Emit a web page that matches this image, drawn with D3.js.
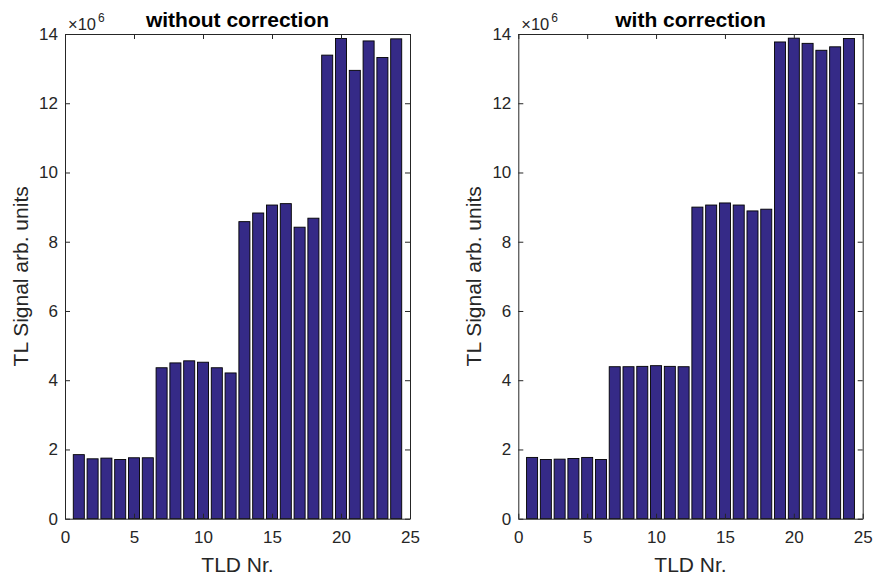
<!DOCTYPE html>
<html>
<head>
<meta charset="utf-8">
<script src="https://cdn.jsdelivr.net/npm/d3@7"></script>
<style>
  html, body { margin: 0; padding: 0; background: #fff; }
  svg { display: block; font-family: "Liberation Sans", Arial, Helvetica, sans-serif; }
</style>
</head>
<body>
<svg id="chart" width="875" height="578"></svg>
<script>
// TLD numbers 1..24
const tldNumbers = d3.range(1, 25);

// TL signal (units of 1e6) before correction
const signalWithout = [
  1.85, 1.73, 1.75, 1.71, 1.76, 1.76,
  4.36, 4.50, 4.56, 4.52, 4.36, 4.21,
  8.58, 8.83, 9.06, 9.10, 8.42, 8.68,
  13.39, 13.87, 12.95, 13.80, 13.32, 13.86
];

// TL signal (units of 1e6) after correction
const signalWith = [
  1.77, 1.71, 1.72, 1.74, 1.77, 1.71,
  4.39, 4.39, 4.40, 4.42, 4.40, 4.39,
  9.00, 9.06, 9.12, 9.06, 8.89, 8.94,
  13.77, 13.88, 13.73, 13.53, 13.63, 13.87
];

const panelTitles = ["without correction", "with correction"];
const xTicks = [0, 5, 10, 15, 20, 25];
const yTicks = [0, 2, 4, 6, 8, 10, 12, 14];
const xLabel = "TLD Nr.";
const yLabel = "TL Signal arb. units";
const exponentBase = "\u00d710";
const exponentPower = "6";

const svg = d3.select("#chart");
const axisColor = "#262626";
const barColor = "#352a87";

const panels = [
  { left: 65, right: 410, values: signalWithout, title: panelTitles[0] },
  { left: 518.3, right: 862.7, values: signalWith, title: panelTitles[1] }
];
const plotTop = 34, plotBottom = 518.7;
const tickLen = 5;

panels.forEach(p => {
  const x = d3.scaleLinear().domain([0, 25]).range([p.left, p.right]);
  const y = d3.scaleLinear().domain([0, 14]).range([plotBottom, plotTop]);
  const g = svg.append("g");

  // bars (width 0.8 of a unit)
  g.append("g").selectAll("rect")
    .data(tldNumbers)
    .join("rect")
    .attr("x", d => x(d - 0.4))
    .attr("width", d => x(d + 0.4) - x(d - 0.4))
    .attr("y", (d, i) => y(p.values[i]))
    .attr("height", (d, i) => y(0) - y(p.values[i]))
    .attr("fill", barColor)
    .attr("stroke", "#000")
    .attr("stroke-width", 0.9);

  // bottom and left axes
  const xAxis = d3.axisBottom(x).tickValues(xTicks).tickSizeInner(-tickLen).tickSizeOuter(0).tickPadding(12);
  const yAxis = d3.axisLeft(y).tickValues(yTicks).tickSizeInner(-tickLen).tickSizeOuter(0).tickPadding(7);

  const gx = g.append("g").attr("transform", `translate(0,${plotBottom})`).call(xAxis);
  const gy = g.append("g").attr("transform", `translate(${p.left},0)`).call(yAxis);

  // mirrored top and right axes (box)
  const gxTop = g.append("g").attr("transform", `translate(0,${plotTop})`)
    .call(d3.axisTop(x).tickValues(xTicks).tickSizeInner(-tickLen).tickSizeOuter(0).tickFormat(""));
  const gyRight = g.append("g").attr("transform", `translate(${p.right},0)`)
    .call(d3.axisRight(y).tickValues(yTicks).tickSizeInner(-tickLen).tickSizeOuter(0).tickFormat(""));

  [gx, gy, gxTop, gyRight].forEach(a => {
    a.select(".domain").attr("stroke", axisColor).attr("stroke-width", 1);
    a.selectAll(".tick line").attr("stroke", axisColor).attr("stroke-width", 1);
    a.selectAll(".tick text")
      .attr("fill", axisColor)
      .attr("font-size", 17)
      .attr("font-family", "Liberation Sans, Arial, sans-serif");
  });
  gx.selectAll(".tick text").attr("dy", "0.71em");

  // exponent marker
  const ex = g.append("text")
    .attr("x", p.left + 3)
    .attr("y", plotTop - 4.5)
    .attr("fill", axisColor)
    .attr("font-size", 16.5);
  ex.append("tspan").text(exponentBase);
  ex.append("tspan").attr("dx", 2).attr("dy", -7.5).attr("font-size", 12).text(exponentPower);

  // title
  g.append("text")
    .attr("x", (p.left + p.right) / 2)
    .attr("y", 26.5)
    .attr("text-anchor", "middle")
    .attr("font-weight", "bold")
    .attr("font-size", 21)
    .attr("fill", "#000")
    .text(p.title);

  // x label
  g.append("text")
    .attr("x", (p.left + p.right) / 2)
    .attr("y", 571.5)
    .attr("text-anchor", "middle")
    .attr("font-size", 21)
    .attr("fill", axisColor)
    .text(xLabel);

  // y label
  g.append("text")
    .attr("transform", `translate(${p.left - 37},${(plotTop + plotBottom) / 2}) rotate(-90)`)
    .attr("text-anchor", "middle")
    .attr("font-size", 21)
    .attr("fill", axisColor)
    .text(yLabel);
});
</script>
</body>
</html>
